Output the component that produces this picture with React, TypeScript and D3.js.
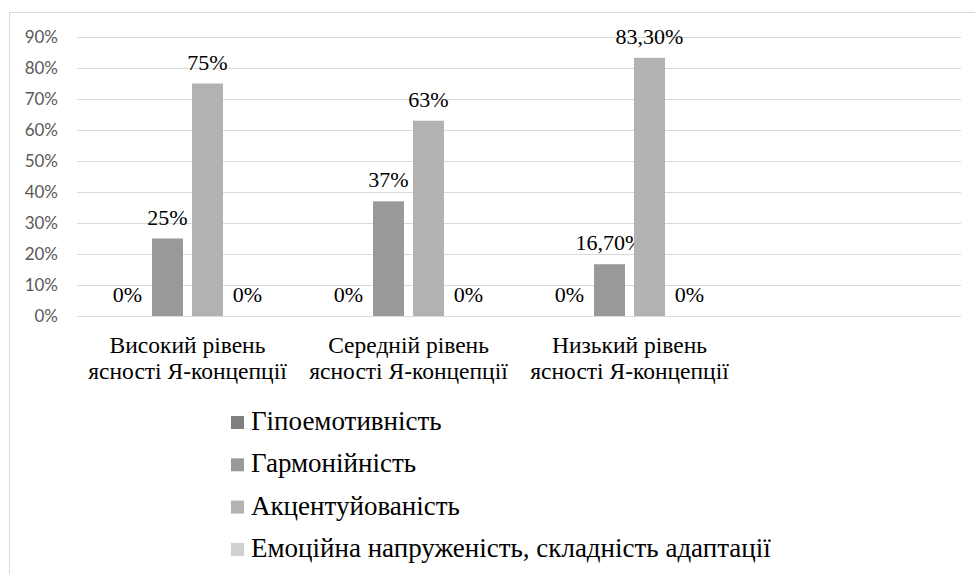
import React from "react";
import * as d3 from "d3";

const categories = ["Високий рівень|ясності Я-концепції", "Середній рівень|ясності Я-концепції", "Низький рівень|ясності Я-концепції", ""];
const seriesNames = ["Гіпоемотивність", "Гармонійність", "Акцентуйованість", "Емоційна напруженість, складність адаптації"];
const seriesColors = ["#7f7f7f", "#999999", "#b2b2b2", "#d0d0d0"];
const hypoValues = [0, 0, 0];
const harmonyValues = [0.25, 0.37, 0.167];
const accentValues = [0.75, 0.63, 0.833];
const tensionValues = [0, 0, 0];
const hypoLabels = ["0%", "0%", "0%"];
const harmonyLabels = ["25%", "37%", "16,70%"];
const accentLabels = ["75%", "63%", "83,30%"];
const tensionLabels = ["0%", "0%", "0%"];
const yTicks = [0, 0.1, 0.2, 0.3, 0.4, 0.5, 0.6, 0.7, 0.8, 0.9];

const W = 975;
const H = 574;
const SERIF = "Liberation Serif";
const SANS = "Lato";

export default function App() {
  const values = [hypoValues, harmonyValues, accentValues, tensionValues];
  const labels = [hypoLabels, harmonyLabels, accentLabels, tensionLabels];
  const x = d3.scaleBand<string>().domain(categories.map((c, i) => String(i))).range([77, 961]);
  const inner = d3.scaleBand<string>().domain(seriesNames).range([-80, 80]).paddingInner(0.225).paddingOuter(0.1125);
  const y = d3.scaleLinear().domain([0, 0.9]).range([316, 37]);

  return (
    <svg width={W} height={H} style={{ position: "absolute", left: 0, top: 0, background: "#fff" }}>
      <rect x={9.5} y={12.5} width={W + 10} height={H + 10} fill="#fff" stroke="#d9d9d9" strokeWidth={1} />
      {yTicks.map((t) => (
        <g key={t}>
          <line x1={77} x2={961} y1={Math.round(y(t)) + 0.5} y2={Math.round(y(t)) + 0.5} stroke="#d9d9d9" strokeWidth={1} />
          <text x={58} y={y(t) + 6} textAnchor="end" fontSize={17} fill="#595959" style={{ fontFamily: SANS }}>
            {d3.format(".0%")(t)}
          </text>
        </g>
      ))}
      {categories.slice(0, 3).map((c, ci) => {
        const cx = (x(String(ci)) as number) + x.bandwidth() / 2;
        return (
          <g key={ci}>
            {seriesNames.map((s, si) => {
              const v = values[si][ci];
              const bx = cx + (inner(s) as number);
              const bw = inner.bandwidth();
              return (
                <g key={s}>
                  {v > 0 && <rect x={bx} y={y(v)} width={bw} height={y(0) - y(v)} fill={seriesColors[si]} />}
                  <text x={bx + bw / 2} y={y(v) - 14} textAnchor="middle" fontSize={22} fill="#000" style={{ fontFamily: SERIF }}>
                    {labels[si][ci]}
                  </text>
                </g>
              );
            })}
            {c.split("|").map((line, li) => (
              <text key={li} x={cx} y={353 + li * 26} textAnchor="middle" fontSize={23.5} fill="#000" style={{ fontFamily: SERIF }}>
                {line}
              </text>
            ))}
          </g>
        );
      })}
      {seriesNames.map((s, si) => (
        <g key={s}>
          <rect x={231} y={416 + si * 42.3} width={13} height={13} fill={seriesColors[si]} />
          <text x={251} y={430 + si * 42.3} fontSize={27} fill="#000" style={{ fontFamily: SERIF }}>
            {s}
          </text>
        </g>
      ))}
    </svg>
  );
}
